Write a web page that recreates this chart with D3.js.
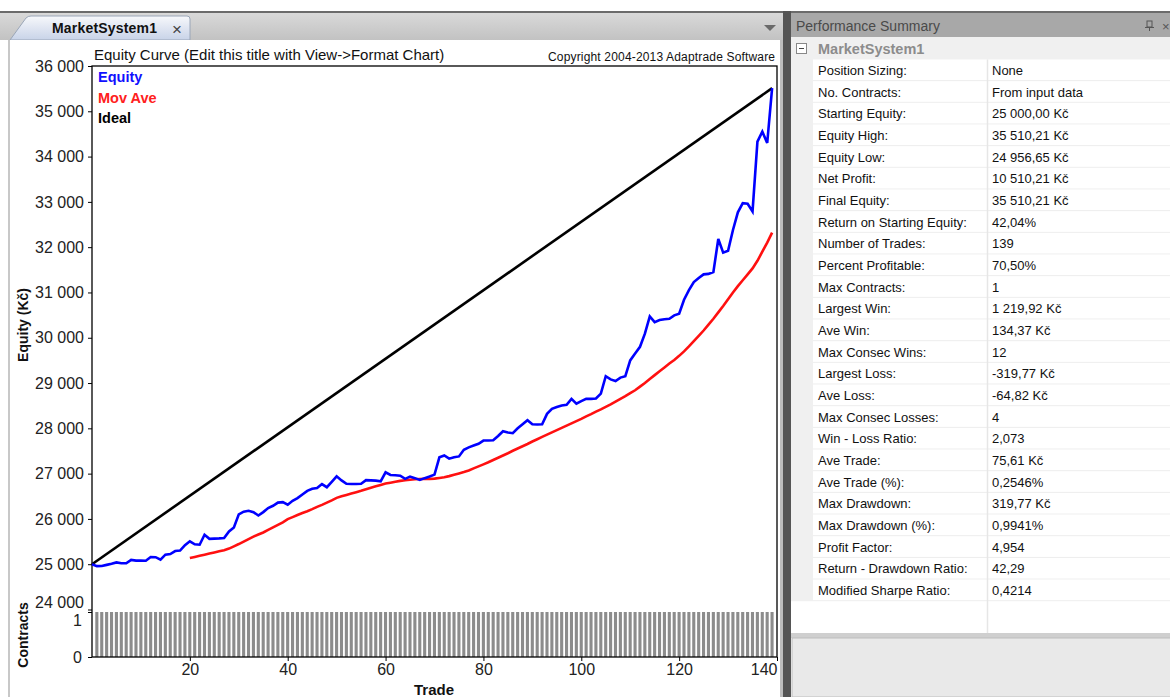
<!DOCTYPE html>
<html>
<head>
<meta charset="utf-8">
<script src="https://cdn.jsdelivr.net/npm/d3@7"></script>
<style>
  html, body { margin: 0; padding: 0; background: #fff; }
  svg { display: block; font-family: Arial, "Liberation Sans", sans-serif; }
</style>
</head>
<body>
<svg id="chart" width="1170" height="697"></svg>
<script>
// equity per trade (trade 0 = starting equity)
const equity = [
  25000, 24957, 24960, 24985, 25010, 25040, 25020, 25020, 25095, 25080,
  25080, 25078, 25160, 25155, 25100, 25210, 25225, 25290, 25300, 25420,
  25505, 25440, 25430, 25650, 25560, 25565, 25570, 25580, 25725, 25810,
  26100, 26160, 26180, 26150, 26075, 26150, 26240, 26290, 26360, 26370,
  26315, 26400, 26460, 26540, 26620, 26665, 26680, 26770, 26700, 26820,
  26940, 26850, 26775, 26770, 26770, 26775, 26855, 26850, 26845, 26830,
  27030, 26970, 26965, 26955, 26885, 26935, 26900, 26860, 26900, 26935,
  26978, 27360, 27400, 27330, 27360, 27380, 27525, 27580, 27620, 27660,
  27730, 27730, 27735, 27830, 27935, 27910, 27893, 28000, 28090, 28180,
  28090, 28085, 28090, 28320, 28430, 28470, 28505, 28520, 28650, 28545,
  28600, 28650, 28650, 28660, 28765, 29150, 29080, 29045, 29120, 29150,
  29500, 29650, 29800, 30090, 30470, 30346, 30390, 30410, 30420, 30495,
  30530, 30840, 31050, 31230, 31320, 31400, 31410, 31450, 32180, 31880,
  31920, 32380, 32770, 32970, 32960, 32790, 34330, 34550, 34300, 35510.21
];
// moving average starts at trade 20
const movAveStart = 20;
const movAve = [
  25135, 25160, 25185, 25210, 25235, 25260, 25285, 25310, 25345, 25395,
  25445, 25500, 25555, 25610, 25655, 25700, 25760, 25815, 25870, 25925,
  25995, 26040, 26085, 26130, 26170, 26215, 26265, 26310, 26360, 26410,
  26465, 26500, 26530, 26560, 26590, 26620, 26655, 26690, 26720, 26750,
  26780, 26800, 26820, 26840, 26855, 26865, 26875, 26880, 26885, 26885,
  26890, 26905, 26920, 26945, 26975, 27005, 27035, 27070, 27115, 27160,
  27205, 27250, 27300, 27350, 27400, 27450, 27505, 27555, 27605, 27655,
  27710, 27760, 27810, 27860, 27910, 27960, 28010, 28060, 28110, 28160,
  28210, 28265, 28315, 28370, 28420, 28475, 28530, 28590, 28650, 28710,
  28775, 28840, 28920, 29000, 29090, 29175, 29260, 29345, 29430, 29510,
  29600, 29700, 29810, 29925, 30040, 30160, 30290, 30420, 30560, 30700,
  30850, 31000, 31140, 31270, 31400, 31530, 31700, 31900, 32100, 32320
];
const idealTrades = [0, 139];
const idealValues = [25000, 35510.21];
const numTrades = 139;
const contractsPerTrade = 1;

const equityTicks = [24000, 25000, 26000, 27000, 28000, 29000, 30000, 31000, 32000, 33000, 34000, 35000, 36000];
const contractTicks = [0, 1];
const tradeTicks = [20, 40, 60, 80, 100, 120, 140];

const legendNames = ['Equity', 'Mov Ave', 'Ideal'];
const legendColors = ['#1010ff', '#ff2020', '#000'];

const summaryLabels = ['Position Sizing:', 'No. Contracts:', 'Starting Equity:', 'Equity High:', 'Equity Low:',
  'Net Profit:', 'Final Equity:', 'Return on Starting Equity:', 'Number of Trades:', 'Percent Profitable:',
  'Max Contracts:', 'Largest Win:', 'Ave Win:', 'Max Consec Wins:', 'Largest Loss:', 'Ave Loss:',
  'Max Consec Losses:', 'Win - Loss Ratio:', 'Ave Trade:', 'Ave Trade (%):', 'Max Drawdown:',
  'Max Drawdown (%):', 'Profit Factor:', 'Return - Drawdown Ratio:', 'Modified Sharpe Ratio:'];
const summaryValues = ['None', 'From input data', '25 000,00 Kč', '35 510,21 Kč', '24 956,65 Kč',
  '10 510,21 Kč', '35 510,21 Kč', '42,04%', '139', '70,50%', '1', '1 219,92 Kč', '134,37 Kč', '12',
  '-319,77 Kč', '-64,82 Kč', '4', '2,073', '75,61 Kč', '0,2546%', '319,77 Kč', '0,9941%', '4,954',
  '42,29', '0,4214'];

const svg = d3.select('#chart');
const defs = svg.append('defs');

// ---------- window chrome ----------
const stripGrad = defs.append('linearGradient').attr('id', 'strip').attr('x1', 0).attr('x2', 0).attr('y1', 0).attr('y2', 1);
stripGrad.append('stop').attr('offset', 0).attr('stop-color', '#d9d9d9');
stripGrad.append('stop').attr('offset', 1).attr('stop-color', '#c2c2c2');
const tabGrad = defs.append('linearGradient').attr('id', 'tab').attr('x1', 0).attr('x2', 0).attr('y1', 0).attr('y2', 1);
tabGrad.append('stop').attr('offset', 0).attr('stop-color', '#f7f8fb');
tabGrad.append('stop').attr('offset', 1).attr('stop-color', '#c8d3e8');

svg.append('rect').attr('x', 0).attr('y', 11).attr('width', 783).attr('height', 2).attr('fill', '#6b6b6b');
svg.append('rect').attr('x', 0).attr('y', 13).attr('width', 783).attr('height', 27).attr('fill', 'url(#strip)');
svg.append('path').attr('d', 'M10,40 L26,18 Q28,16 31,16 L187,16 Q190,16 190,19 L190,40 Z')
  .attr('fill', 'url(#tab)').attr('stroke', '#9aa6b8').attr('stroke-width', 1);
svg.append('text').attr('x', 52).attr('y', 33).attr('font-size', 14).attr('font-weight', 'bold')
  .attr('fill', '#111').attr('textLength', 105).text('MarketSystem1');
svg.append('text').attr('x', 172).attr('y', 35).attr('font-size', 17).attr('fill', '#444').text('×');
svg.append('path').attr('d', 'M764,25 L776,25 L770,31 Z').attr('fill', '#6a6a6a');

// chart pane
svg.append('rect').attr('x', 0).attr('y', 40).attr('width', 783).attr('height', 657).attr('fill', '#fff');
svg.append('rect').attr('x', 8).attr('y', 40).attr('width', 2).attr('height', 657).attr('fill', '#c8c8c8');
svg.append('rect').attr('x', 780).attr('y', 40).attr('width', 3).attr('height', 657).attr('fill', '#bdbdbd');
svg.append('rect').attr('x', 783).attr('y', 11).attr('width', 8).attr('height', 686).attr('fill', '#555');

// ---------- chart ----------
const x = d3.scaleLinear().domain([0, 140]).range([92, 777]);
const y = d3.scaleLinear().domain([24000, 36000]).range([609.5, 66]);
const yc = d3.scaleLinear().domain([0, 1]).range([657, 612]);

svg.append('text').attr('x', 94).attr('y', 60).attr('font-size', 15).attr('fill', '#111')
  .text('Equity Curve (Edit this title with View->Format Chart)');
svg.append('text').attr('x', 775).attr('y', 61).attr('font-size', 12).attr('fill', '#111')
  .attr('text-anchor', 'end').attr('textLength', 227).text('Copyright 2004-2013 Adaptrade Software');

// contracts bars
const trades = d3.range(1, numTrades + 1);
svg.append('g').selectAll('rect').data(trades).join('rect')
  .attr('x', d => x(d) - 1.6).attr('width', 3.1)
  .attr('y', yc(contractsPerTrade)).attr('height', yc(0) - yc(contractsPerTrade))
  .attr('fill', '#8c8c8c');

// frame
svg.append('rect').attr('x', 92).attr('y', 66).attr('width', 685).attr('height', 591)
  .attr('fill', 'none').attr('stroke', '#000').attr('stroke-width', 1.3);

// equity axis
const yAxis = svg.append('g').attr('transform', 'translate(92,0)')
  .call(d3.axisLeft(y).tickValues(equityTicks).tickSize(4).tickPadding(4)
    .tickFormat(d => d3.format(',')(d).replace(',', ' ')));
yAxis.select('.domain').remove();
yAxis.selectAll('line').attr('stroke', '#000');
yAxis.selectAll('text').attr('font-size', 16).attr('fill', '#222').attr('font-family', 'Arial, sans-serif')
  .attr('dy', d => d === 24000 ? '-0.15em' : '0.32em');

// contracts axis
const cAxis = svg.append('g').attr('transform', 'translate(92,0)')
  .call(d3.axisLeft(yc).tickValues(contractTicks).tickSize(4).tickPadding(6).tickFormat(d3.format('d')));
cAxis.select('.domain').remove();
cAxis.selectAll('line').attr('stroke', '#000');
cAxis.selectAll('text').attr('font-size', 16).attr('fill', '#222').attr('font-family', 'Arial, sans-serif')
  .attr('dy', d => d === 1 ? '0.85em' : '0.32em');

// trade axis
const xAxis = svg.append('g').attr('transform', 'translate(0,657)')
  .call(d3.axisBottom(x).tickValues(tradeTicks).tickSize(4).tickPadding(3));
xAxis.select('.domain').remove();
xAxis.selectAll('line').attr('stroke', '#000');
xAxis.selectAll('text').attr('font-size', 16).attr('fill', '#222').attr('font-family', 'Arial, sans-serif')
  .attr('text-anchor', d => d === 140 ? 'end' : 'middle');

// axis titles
svg.append('text').attr('x', 434).attr('y', 695).attr('text-anchor', 'middle')
  .attr('font-size', 15).attr('font-weight', 'bold').attr('fill', '#111').text('Trade');
svg.append('text').attr('transform', 'translate(28,325) rotate(-90)').attr('text-anchor', 'middle')
  .attr('font-size', 14).attr('font-weight', 'bold').attr('fill', '#111').text('Equity (Kč)');
svg.append('text').attr('transform', 'translate(28,635) rotate(-90)').attr('text-anchor', 'middle')
  .attr('font-size', 14).attr('font-weight', 'bold').attr('fill', '#111').text('Contracts');

// lines
const ideal = idealTrades.map((t, i) => [t, idealValues[i]]);
const eqPts = equity.map((v, i) => [i, v]);
const maPts = movAve.map((v, i) => [i + movAveStart, v]);
const line = d3.line().x(d => x(d[0])).y(d => y(d[1]));

svg.append('path').datum(ideal).attr('d', line).attr('fill', 'none').attr('stroke', '#000').attr('stroke-width', 2.6);
svg.append('path').datum(maPts).attr('d', line).attr('fill', 'none').attr('stroke', '#ff1010').attr('stroke-width', 2.6);
svg.append('path').datum(eqPts).attr('d', line).attr('fill', 'none').attr('stroke', '#0000ff').attr('stroke-width', 2.6);

// legend
svg.append('g').selectAll('text').data(legendNames).join('text')
  .attr('x', 98).attr('y', (d, i) => 82 + i * 20.5)
  .attr('font-size', 14.5).attr('font-weight', 'bold')
  .attr('fill', (d, i) => legendColors[i]).text(d => d);

// ---------- performance summary ----------
const px = 791;
svg.append('rect').attr('x', px).attr('y', 11).attr('width', 1170 - px).attr('height', 2).attr('fill', '#6b6b6b');
svg.append('rect').attr('x', px).attr('y', 13).attr('width', 1170 - px).attr('height', 24).attr('fill', '#a8a8a8');
svg.append('text').attr('x', 796).attr('y', 31).attr('font-size', 14).attr('fill', '#4a4a4a').text('Performance Summary');
svg.append('rect').attr('x', 1147).attr('y', 21).attr('width', 5).attr('height', 6).attr('fill', 'none').attr('stroke', '#555');
svg.append('line').attr('x1', 1145).attr('x2', 1154).attr('y1', 27.5).attr('y2', 27.5).attr('stroke', '#555');
svg.append('line').attr('x1', 1149.5).attr('x2', 1149.5).attr('y1', 28).attr('y2', 31).attr('stroke', '#555');
svg.append('text').attr('x', 1162).attr('y', 31).attr('font-size', 13).attr('fill', '#555').text('×');

svg.append('rect').attr('x', px).attr('y', 37).attr('width', 1170 - px).attr('height', 565).attr('fill', '#f0f0f0');
svg.append('rect').attr('x', 796.5).attr('y', 43.5).attr('width', 10).attr('height', 10).attr('fill', '#fff').attr('stroke', '#888');
svg.append('line').attr('x1', 799).attr('x2', 804).attr('y1', 48.5).attr('y2', 48.5).attr('stroke', '#444');
svg.append('text').attr('x', 818).attr('y', 54).attr('font-size', 14.5).attr('font-weight', 'bold')
  .attr('fill', '#8c8c8c').text('MarketSystem1');

const rowH = 21.67, row0 = 59.5, colX = 987;
const rows = svg.append('g');
const rowG = rows.selectAll('g').data(summaryLabels).join('g')
  .attr('transform', (d, i) => `translate(0,${row0 + i * rowH})`);
rowG.append('rect').attr('x', 813).attr('width', 1170 - 813).attr('height', rowH).attr('fill', '#fff');
rowG.append('line').attr('x1', 813).attr('x2', 1170).attr('y1', rowH - 0.5).attr('y2', rowH - 0.5).attr('stroke', '#ececec');
rowG.append('text').attr('x', 818).attr('y', 15.5).attr('font-size', 13).attr('fill', '#111').text(d => d);
rowG.append('text').attr('x', 992).attr('y', 15.5).attr('font-size', 13).attr('fill', '#111').text((d, i) => summaryValues[i]);

const rowsEnd = row0 + summaryLabels.length * rowH;
svg.append('rect').attr('x', px).attr('y', rowsEnd).attr('width', 1170 - px).attr('height', 633 - rowsEnd).attr('fill', '#fff');
svg.append('line').attr('x1', colX + 0.5).attr('x2', colX + 0.5).attr('y1', row0).attr('y2', 633).attr('stroke', '#e6e6e6').attr('stroke-width', 1.5);
svg.append('rect').attr('x', px).attr('y', 633).attr('width', 1170 - px).attr('height', 5).attr('fill', '#cfcfcf');
svg.append('rect').attr('x', px + 1).attr('y', 638).attr('width', 1170 - px).attr('height', 59).attr('fill', '#e9e9e9')
  .attr('stroke', '#bdbdbd');
</script>
</body>
</html>
